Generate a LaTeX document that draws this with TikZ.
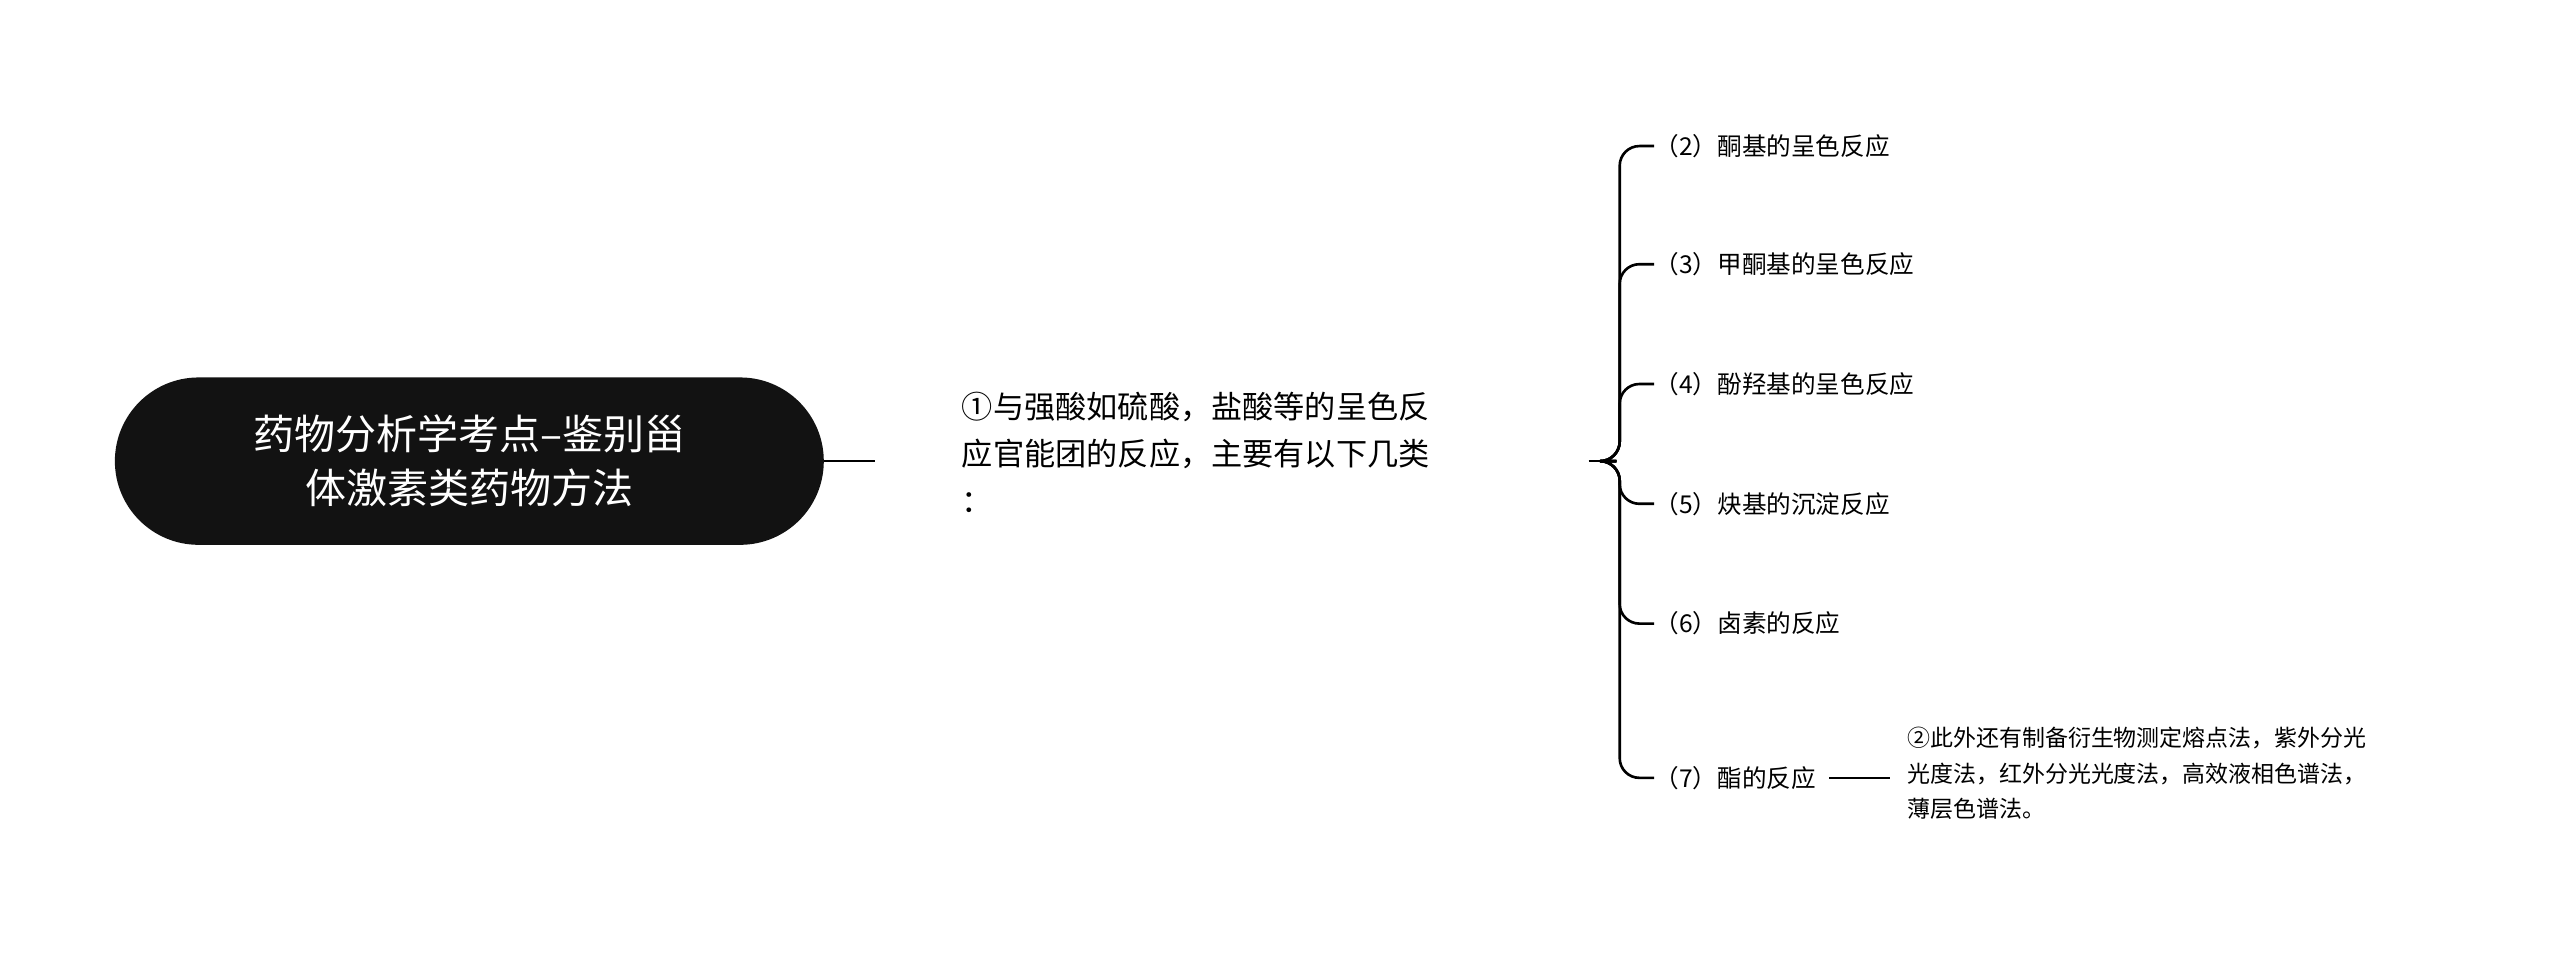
\documentclass[tikz,border=0pt]{standalone}
\usepackage{fontspec}
\setmainfont{Noto Sans CJK SC}
\begin{document}
\begin{tikzpicture}[x=1pt,y=-1pt,
  conn/.style={line width=1.6pt,black},
  leaf/.style={anchor=west,font=\fontsize{15}{18}\selectfont,inner sep=0pt},
  note/.style={anchor=north west,font=\fontsize{14}{21.5}\selectfont,align=left,inner sep=0pt}]
\useasboundingbox (0,0) rectangle (1560,581.4);
\node[fill=black!93,rounded corners=51pt,minimum width=432pt,minimum height=102pt,
  text=white,align=center,font=\fontsize{25}{33}\selectfont] (root) at (286,281)
  {药物分析学考点--鉴别甾\\体激素类药物方法};
\coordinate (c1) at (533,281);
\draw[conn] (root.east) -- (c1);
\node[anchor=north west,inner sep=0pt,align=left,font=\fontsize{19}{28.5}\selectfont] (child) at (586,239)
  {①与强酸如硫酸，盐酸等的呈色反\\应官能团的反应，主要有以下几类\\：};
\coordinate (b0) at (968,281);
\coordinate (b1) at (985,281);
\draw[conn] (b0) -- (b1);
\foreach \y/\t/\n in {89/（2）酮基的呈色反应/l2,161/（3）甲酮基的呈色反应/l3,234/（4）酚羟基的呈色反应/l4,307/（5）炔基的沉淀反应/l5,380/（6）卤素的反应/l6,474/（7）酯的反应/l7}{
  \node[leaf] (\n) at (1008,\y) {\t};
  \draw[conn,rounded corners=12pt] (b1) -- (987,281) |- (\n.west);
}
\coordinate (n0) at (1152,474);
\draw[conn] (l7.east) ++(8,0) -- (n0);
\node[note] (note) at (1162,443)
  {②此外还有制备衍生物测定熔点法，紫外分光\\光度法，红外分光光度法，高效液相色谱法，\\薄层色谱法。};
\end{tikzpicture}
\end{document}
